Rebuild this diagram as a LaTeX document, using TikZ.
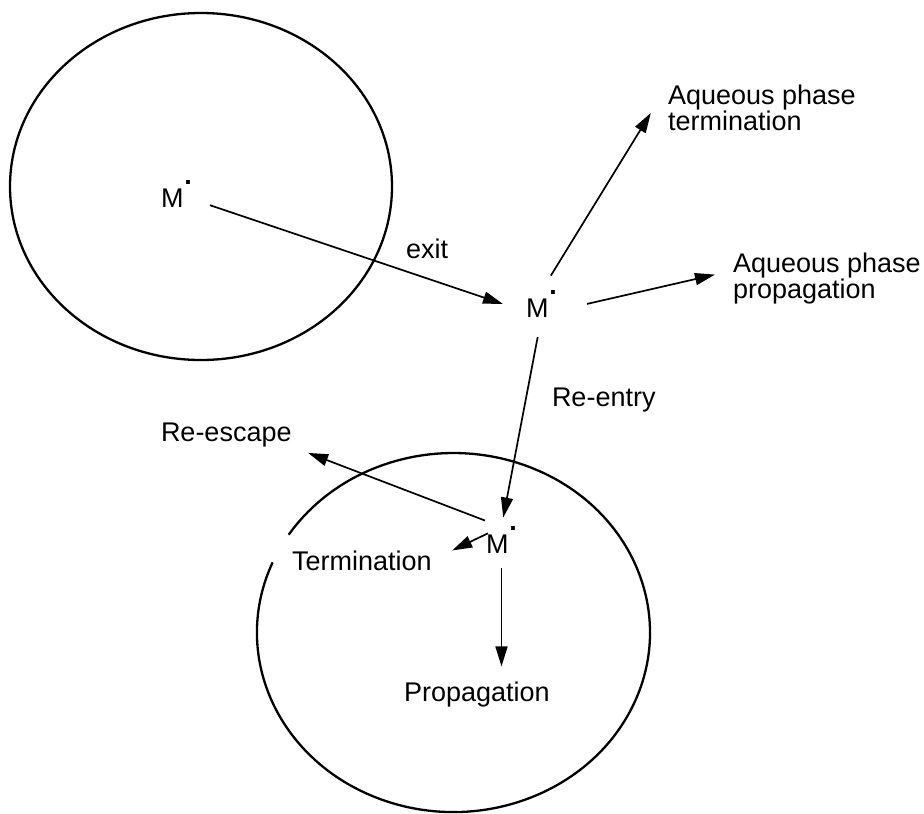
\documentclass[tikz,border=0pt]{standalone}
\usepackage{fontspec}
\setmainfont{Liberation Sans}
\usetikzlibrary{arrows.meta}
\begin{document}
\begin{tikzpicture}[x=1pt,y=1pt,
  txt/.style={font=\fontsize{27}{24.5}\selectfont, inner sep=0pt, outer sep=0pt},
  rad/.style={txt, anchor=base west},
  lab2/.style={txt, align=left, anchor=north west},
  arr/.style={line width=1.7pt, -{Triangle[length=20pt,width=12pt]}},
  cell/.style={line width=2.3pt}]
\path[use as bounding box, fill=white] (0,0) rectangle (924,-814);
% particles
\draw[cell] (201,-186.5) ellipse [x radius=191, y radius=173.5];
\draw[cell] (272.6,-562.4) arc[start angle=157, end angle=507, x radius=196.5, y radius=179.5];
% radicals
\node[rad] (m1) at (161,-207) {M\kern1pt\raisebox{0.82em}{\bfseries .}};
\node[rad] (m2) at (526,-317) {M\kern1pt\raisebox{0.82em}{\bfseries .}};
\node[rad] (m3) at (486,-553) {M\kern1pt\raisebox{0.82em}{\bfseries .}};
% labels
\node[lab2] (aqt) at (668,-85) {Aqueous phase\\termination};
\node[lab2] (aqp) at (733,-253) {Aqueous phase\\propagation};
\node[rad] (exit) at (406,-258) {exit};
\node[rad] (reentry) at (552,-406) {Re-entry};
\node[rad] (reesc) at (161,-441) {Re-escape};
\node[rad] (term) at (292,-570) {Termination};
\node[rad] (prop) at (404,-701) {Propagation};
% connectors
\draw[arr, shorten <=35.3pt, shorten >=40.6pt] (m1.center) -- (m2.south);
\draw[arr, shorten <=17.9pt, shorten >=32.8pt] (m2.north) -- (aqt.north west);
\draw[arr, shorten <=30.8pt, shorten >=18.5pt] (m2.-24) -- (aqp.175);
\draw[arr, shorten <=20.4pt, shorten >=9.5pt] (m2.south) -- (m3.north);
\draw[arr, shorten <=17.7pt, shorten >=17.7pt] (m3.north) -- (reesc.south east);
\draw[arr, shorten <=15pt, shorten >=22.9pt] (m3.north) -- (term.east);
\draw[arr, shorten <=15pt, shorten >=15pt] (m3.south) -- (m3.south |- prop.north);
\end{tikzpicture}
\end{document}
